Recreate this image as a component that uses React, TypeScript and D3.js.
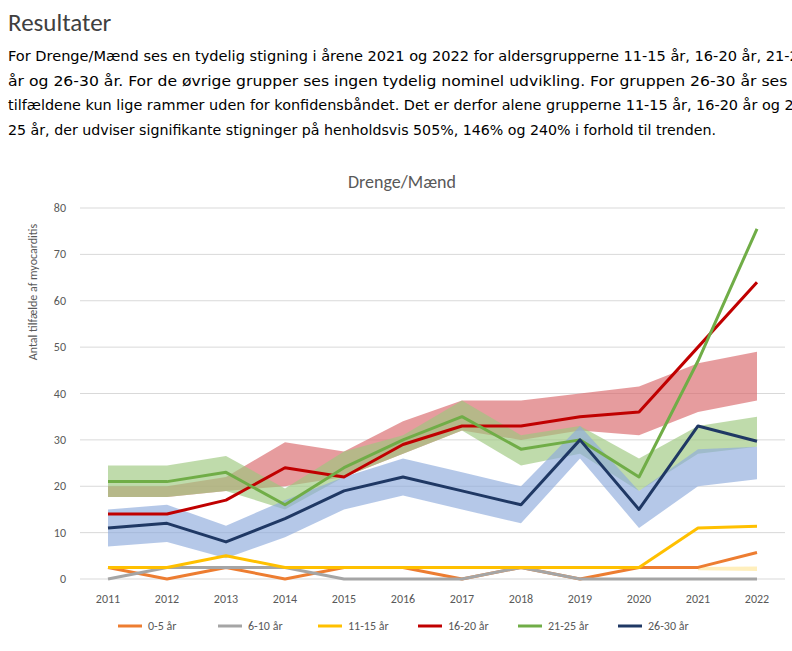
import * as d3 from 'd3'

const years = [2011, 2012, 2013, 2014, 2015, 2016, 2017, 2018, 2019, 2020, 2021, 2022]
const seriesNames = ['0-5 år', '6-10 år', '11-15 år', '16-20 år', '21-25 år', '26-30 år']
const seriesColors = ['#ed7d31', '#a5a5a5', '#ffc000', '#c00000', '#70ad47', '#1f3864']
const v0_5 = [2.5, 0, 2.5, 0, 2.5, 2.5, 0, 2.5, 0, 2.5, 2.5, 5.7]
const v6_10 = [0, 2.5, 2.5, 2.5, 0, 0, 0, 2.5, 0, 0, 0, 0]
const v11_15 = [2.5, 2.5, 5, 2.5, 2.5, 2.5, 2.5, 2.5, 2.5, 2.5, 11, 11.4]
const v16_20 = [14, 14, 17, 24, 22, 29, 33, 33, 35, 36, 50, 64]
const v21_25 = [21, 21, 23, 16, 24, 30, 35, 28, 30, 22, 47, 75.5]
const v26_30 = [11, 12, 8, 13, 19, 22, 19, 16, 30, 15, 33, 29.7]
const seriesValues = [v0_5, v6_10, v11_15, v16_20, v21_25, v26_30]

// confidence bands (lower / upper)
const redLo = [17.7, 17.7, 19, 20, 22, 27, 32, 30, 32, 31, 36, 38.5]
const redHi = [20, 20, 22, 29.5, 27.5, 34, 38.5, 38.5, 40, 41.5, 46.5, 49]
const greenLo = [17.7, 17.7, 19, 15, 22, 27, 32, 24.5, 27, 19, 27, 28.5]
const greenHi = [24.5, 24.5, 26.5, 19.5, 27.5, 31, 38.5, 31, 33, 26, 33, 35]
const blueLo = [7, 8, 4.5, 9, 15, 18, 15, 12, 26, 11, 20, 21.5]
const blueHi = [15, 16, 11.5, 17, 22, 26, 23, 20, 33, 19, 28, 28.5]
const yellowLo = [null, null, null, null, null, null, null, null, null, null, 1.9, 1.7]
const yellowHi = [null, null, null, null, null, null, null, null, null, null, 2.6, 2.7]
const bands = [
  { lo: redLo, hi: redHi, color: '#d9676a' },
  { lo: greenLo, hi: greenHi, color: '#9cc87e' },
  { lo: blueLo, hi: blueHi, color: '#8eaadc' },
  { lo: yellowLo, hi: yellowHi, color: '#ffe699' },
]
const yTicks = [0, 10, 20, 30, 40, 50, 60, 70, 80]

const paragraph = [
  'For Drenge/Mænd ses en tydelig stigning i årene 2021 og 2022 for aldersgrupperne 11-15 år, 16-20 år, 21-25',
  'år og 26-30 år.  For de øvrige grupper ses ingen tydelig nominel udvikling. For gruppen 26-30 år ses at',
  'tilfældene kun lige rammer uden for konfidensbåndet. Det er derfor alene grupperne 11-15 år, 16-20 år og 21-',
  '25 år, der udviser signifikante stigninger på henholdsvis 505%, 146% og 240% i forhold til trenden.',
]

export default function App() {
  const x = d3.scaleLinear().domain([2011, 2022]).range([108, 757])
  const y = d3.scaleLinear().domain([0, 80]).range([579, 208])
  const line = d3.line<number>().x((_, i) => x(years[i])).y((d) => y(d))
  const font = 'Carlito, "Liberation Sans", Arial, sans-serif'

  return (
    <svg width={792} height={651} style={{ position: 'absolute', left: 0, top: 0, background: '#fff' }} fontFamily={font}>
      <text x={8} y={31} fontSize={25} fill="#404040">Resultater</text>
      {paragraph.map((t, i) => (
        <text key={i} x={8} y={61 + i * 24.5} fontSize={14.5} fill="#000" fontFamily='"DejaVu Sans Condensed", "Liberation Sans", sans-serif' textLength={i === 3 ? 708 : 800} lengthAdjust="spacingAndGlyphs">{t}</text>
      ))}
      <text x={402} y={188} textAnchor="middle" fontSize={18} fill="#595959">Drenge/Mænd</text>
      <text transform="translate(37,292) rotate(-90)" textAnchor="middle" fontSize={12} fill="#595959">Antal tilfælde af myocarditis</text>
      {yTicks.map((t) => (
        <g key={t}>
          <line x1={80} x2={785} y1={y(t)} y2={y(t)} stroke="#d9d9d9" strokeWidth={1} />
          <text x={66} y={y(t) + 4} textAnchor="end" fontSize={12} fill="#595959">{t}</text>
        </g>
      ))}
      {years.map((yr) => (
        <text key={yr} x={x(yr)} y={603} textAnchor="middle" fontSize={12} fill="#595959">{yr}</text>
      ))}
      {bands.map((b, k) => {
        const area = d3.area<number>()
          .defined((_, i) => b.lo[i] != null)
          .x((_, i) => x(years[i]))
          .y0((_, i) => y(b.lo[i] as number))
          .y1((_, i) => y(b.hi[i] as number))
        return <path key={k} d={area(years) || ''} fill={b.color} opacity={0.65} />
      })}
      {seriesValues.map((vals, k) => (
        <path key={k} d={line(vals) || ''} fill="none" stroke={seriesColors[k]} strokeWidth={3} strokeLinejoin="round" />
      ))}
      {seriesNames.map((n, k) => (
        <g key={n} transform={`translate(${118 + k * 100},626)`}>
          <line x1={0} x2={24} y1={0} y2={0} stroke={seriesColors[k]} strokeWidth={3} />
          <text x={30} y={4} fontSize={12} fill="#595959">{n}</text>
        </g>
      ))}
    </svg>
  )
}
